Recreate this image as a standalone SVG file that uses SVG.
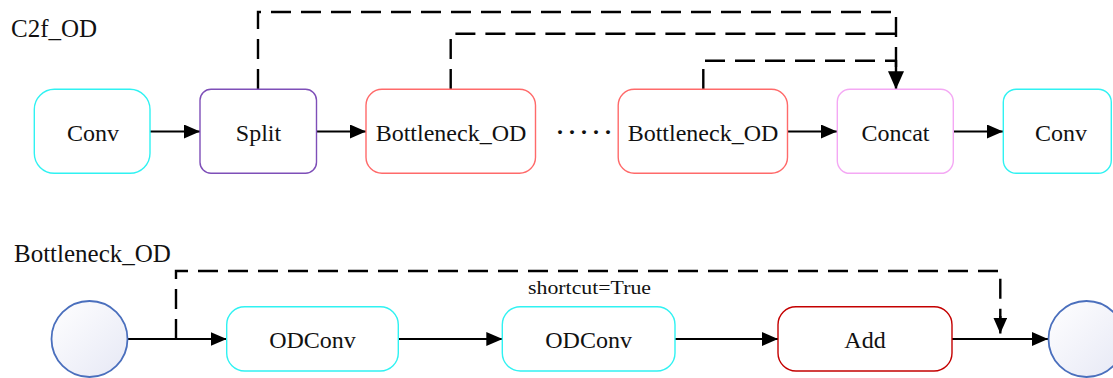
<svg xmlns="http://www.w3.org/2000/svg" width="1113" height="378" viewBox="0 0 1113 378">
  <style>
    text { font-family: "Liberation Serif", "Times New Roman", serif; fill: #111; }
    .lbl { font-size: 24px; text-anchor: middle; }
    .title { font-size: 25px; }
    .box { fill: #fff; stroke-width: 1.4; }
    .cyan { stroke: #30f2f2; }
    .purple { stroke: #7e4fb8; }
    .red { stroke: #ff6a6a; }
    .pink { stroke: #f4a8f4; }
    .dred { stroke: #c40000; }
    .flow { fill: none; stroke: #000; stroke-width: 2.2; marker-end: url(#arrow); }
    .skip { fill: none; stroke: #000; stroke-width: 2.4; stroke-dasharray: 20 10; }
    .port { fill: url(#portFill); stroke: #4a6fbd; stroke-width: 1.8; }
  </style>
  <defs>
    <marker id="arrow" markerUnits="userSpaceOnUse" markerWidth="16" markerHeight="14" refX="16" refY="7" orient="auto">
      <path d="M0,0 L16,7 L0,14 z" fill="#000"/>
    </marker>
    <marker id="arrowDown" markerUnits="userSpaceOnUse" markerWidth="18" markerHeight="16" refX="18" refY="8" orient="auto">
      <path d="M0,0 L18,8 L0,16 z" fill="#000"/>
    </marker>
    <linearGradient id="portFill" x1="0" y1="0" x2="1" y2="1">
      <stop offset="0" stop-color="#ffffff"/>
      <stop offset="1" stop-color="#e6e8f5"/>
    </linearGradient>
  </defs>

  <!-- section titles -->
  <text class="title" x="11" y="37">C2f_OD</text>
  <text class="title" x="14" y="262">Bottleneck_OD</text>

  <!-- connectors -->
  <g id="connectors">
    <!-- C2f_OD main path -->
    <line class="flow" x1="150" y1="131.5" x2="200" y2="131.5"/>
    <line class="flow" x1="316.5" y1="131.5" x2="366" y2="131.5"/>
    <line class="flow" x1="787.5" y1="131.5" x2="837" y2="131.5"/>
    <line class="flow" x1="953" y1="131.5" x2="1003" y2="131.5"/>
    <!-- branches gathered by Concat -->
    <path class="skip" d="M258,89 V12 H896 V72"/>
    <path class="skip" d="M450.7,89 V33.7 H896"/>
    <path class="skip" d="M703.3,89 V60.7 H896"/>
    <line x1="896" y1="60" x2="896" y2="89.3" stroke="#000" stroke-width="2.4" marker-end="url(#arrowDown)"/>
    <!-- Bottleneck_OD main path -->
    <line class="flow" x1="127.5" y1="339" x2="226.7" y2="339"/>
    <line class="flow" x1="398.3" y1="339" x2="502.3" y2="339"/>
    <line class="flow" x1="675" y1="339" x2="778" y2="339"/>
    <line class="flow" x1="952" y1="339" x2="1048" y2="339"/>
    <!-- residual shortcut -->
    <path class="skip" d="M176,339 V271 H1000.3 V320"/>
    <line x1="1000.3" y1="316" x2="1000.3" y2="333.5" stroke="#000" stroke-width="2.4" marker-end="url(#arrow)"/>
    <text x="589.5" y="294" font-size="18" text-anchor="middle" textLength="123" lengthAdjust="spacingAndGlyphs">shortcut=True</text>
  </g>

  <!-- C2f_OD nodes -->
  <g id="conv_in">
    <rect class="box cyan" x="34.3" y="89.3" width="115.7" height="84" rx="20"/>
    <text class="lbl" x="93" y="140.5">Conv</text>
  </g>
  <g id="split">
    <rect class="box purple" x="200" y="89.3" width="116.5" height="84" rx="11"/>
    <text class="lbl" x="258.5" y="140.5">Split</text>
  </g>
  <g id="bottleneck_1">
    <rect class="box red" x="366" y="89.3" width="169.5" height="84" rx="16"/>
    <text class="lbl" x="451" y="140.5">Bottleneck_OD</text>
  </g>
  <g id="ellipsis">
    <text x="556" y="140" font-size="24" font-weight="bold" letter-spacing="4">·····</text>
  </g>
  <g id="bottleneck_n">
    <rect class="box red" x="618.2" y="89.3" width="169.3" height="84" rx="16"/>
    <text class="lbl" x="703" y="140.5">Bottleneck_OD</text>
  </g>
  <g id="concat">
    <rect class="box pink" x="837.3" y="89.3" width="116" height="84" rx="12.5"/>
    <text class="lbl" x="895.5" y="140.5">Concat</text>
  </g>
  <g id="conv_out">
    <rect class="box cyan" x="1003.3" y="89.3" width="108" height="84" rx="13"/>
    <text class="lbl" x="1061" y="140.5">Conv</text>
  </g>

  <!-- Bottleneck_OD nodes -->
  <g id="input">
    <circle class="port" cx="89.5" cy="339" r="38"/>
  </g>
  <g id="odconv_1">
    <rect class="box cyan" x="226.7" y="306.7" width="171.6" height="64.3" rx="18"/>
    <text class="lbl" x="312.5" y="347.5">ODConv</text>
  </g>
  <g id="odconv_2">
    <rect class="box cyan" x="502.3" y="306.7" width="172.7" height="64.3" rx="18"/>
    <text class="lbl" x="588.6" y="347.5">ODConv</text>
  </g>
  <g id="add">
    <rect class="box dred" x="778" y="306.7" width="174" height="64.3" rx="18"/>
    <text class="lbl" x="865" y="347.5">Add</text>
  </g>
  <g id="output">
    <circle class="port" cx="1086.5" cy="339" r="38"/>
  </g>
</svg>
